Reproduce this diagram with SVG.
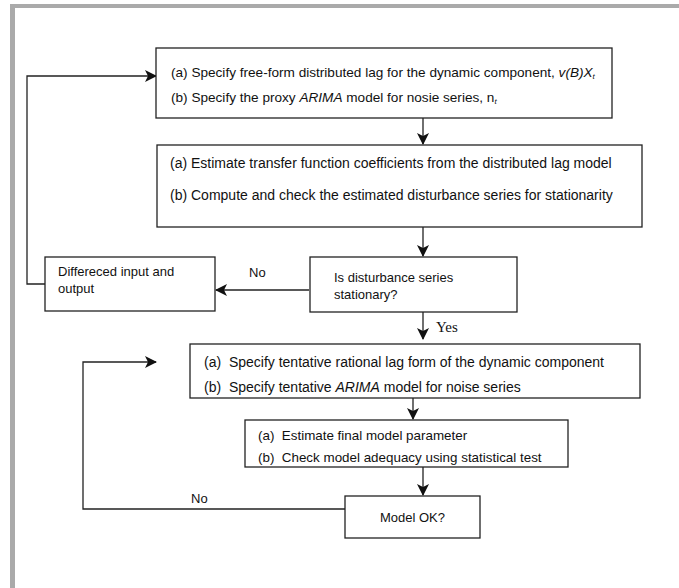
<svg xmlns="http://www.w3.org/2000/svg" width="679" height="588" viewBox="0 0 679 588">
<style>
.box{fill:#fff;stroke:#222;stroke-width:1.3}
.t{font-family:"Liberation Sans",Arial,sans-serif;font-size:13px;fill:#111;white-space:pre}
.b1{font-size:13.6px}
.b2{font-size:14px}
.b3{font-size:14px}
.b4{font-size:13.4px}
.i{font-style:italic}
.s{font-size:8px;font-style:italic}
.c{fill:none;stroke:#222;stroke-width:1.3}
.y{font-family:"Liberation Serif","Times New Roman",serif;font-size:15px;fill:#111}
</style>
<defs>
<marker id="ah" viewBox="0 0 12 12" refX="11" refY="6" markerWidth="12" markerHeight="12" markerUnits="userSpaceOnUse" orient="auto">
<path d="M0,0 L12,6 L0,12 L3,6 Z" fill="#111"/>
</marker>
</defs>
<rect x="0" y="0" width="679" height="588" fill="#fff"/>
<g id="frame">
<rect x="10" y="4" width="669" height="4" fill="#aaa"/>
<rect x="10" y="4" width="5" height="584" fill="#aaa"/>
</g>
<g id="connectors">
<path class="c" d="M423,118 V144" marker-end="url(#ah)"/>
<path class="c" d="M423,227 V256" marker-end="url(#ah)"/>
<path class="c" d="M309,290 H216" marker-end="url(#ah)"/>
<path class="c" d="M45,284 H27 V76 H156" marker-end="url(#ah)"/>
<path class="c" d="M423,312 V339" marker-end="url(#ah)"/>
<path class="c" d="M413,398 V419" marker-end="url(#ah)"/>
<path class="c" d="M423,467 V495" marker-end="url(#ah)"/>
<path class="c" d="M345,509 H83 V362 H156" marker-end="url(#ah)"/>
<text class="t" x="249" y="277">No</text>
<text class="y" x="436" y="332">Yes</text>
<text class="t" x="191" y="503">No</text>
</g>
<g id="n1">
<rect class="box" x="156" y="48" width="456" height="70"/>
<text class="t b1" x="171" y="77">(a) Specify free-form distributed lag for the dynamic component, <tspan class="i">v(B)X</tspan><tspan class="s" dy="2">t</tspan></text>
<text class="t b1" x="171" y="102">(b) Specify the proxy <tspan class="i">ARIMA</tspan> model for nosie series, n<tspan class="s" dy="2">t</tspan></text>
</g>
<g id="n2">
<rect class="box" x="157" y="145" width="485" height="82"/>
<text class="t b2" x="170" y="168">(a) Estimate transfer function coefficients from the distributed lag model</text>
<text class="t b2" x="170" y="200">(b) Compute and check the estimated disturbance series for stationarity</text>
</g>
<g id="n3">
<rect class="box" x="310" y="257" width="207" height="55"/>
<text class="t" x="334" y="282">Is disturbance series</text>
<text class="t" x="334" y="299">stationary?</text>
</g>
<g id="n4">
<rect class="box" x="45" y="257" width="170" height="54"/>
<text class="t" x="58" y="276">Differeced input and</text>
<text class="t" x="58" y="293">output</text>
</g>
<g id="n5">
<rect class="box" x="190" y="344" width="450" height="54"/>
<text class="t b3" x="204" y="367">(a)  Specify tentative rational lag form of the dynamic component</text>
<text class="t b3" x="204" y="392">(b)  Specify tentative <tspan class="i">ARIMA</tspan> model for noise series</text>
</g>
<g id="n6">
<rect class="box" x="245" y="420" width="323" height="47"/>
<text class="t b4" x="258" y="440">(a)  Estimate final model parameter</text>
<text class="t b4" x="258" y="462">(b)  Check model adequacy using statistical test</text>
</g>
<g id="n7">
<rect class="box" x="345" y="496" width="135" height="42"/>
<text class="t" x="412.5" y="522" text-anchor="middle">Model OK?</text>
</g>
</svg>
